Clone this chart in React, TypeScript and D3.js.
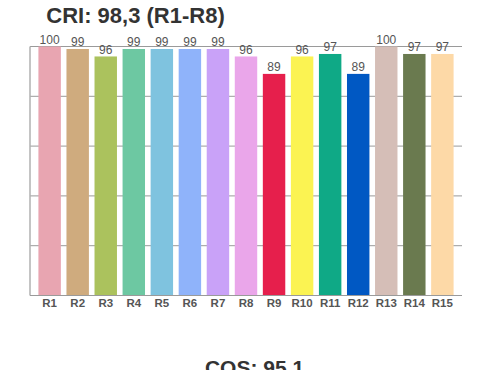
import React from "react";
import * as d3 from "d3";

const categories = ["R1","R2","R3","R4","R5","R6","R7","R8","R9","R10","R11","R12","R13","R14","R15"];
const values = [100,99,96,99,99,99,99,96,89,96,97,89,100,97,97];
const colors = ["#e8a5b1","#cfab7e","#abc25d","#6dc8a2","#7fc3df","#8fb3fa","#c9a2f8","#eaa6ea","#e61f4c","#fbf352","#0fa986","#0058c3","#d5beb7","#6a7a4f","#fdd9a7"];
const gridTicks = [0,20,40,60,80,100];
const title = "CRI: 98,3 (R1-R8)";
const footer = "CQS: 95.1";

export default function App() {
  const W = 500, H = 370;
  const left = 30, right = 462, top = 46.5, bottom = 295.5;
  const x = d3.scaleBand<string>().domain(categories).range([left, right]).paddingInner(0.2).paddingOuter(0.3);
  const y = d3.scaleLinear().domain([0, 100]).range([bottom, top]);
  const font = "Liberation Sans, Arial, Helvetica, sans-serif";
  return (
    <svg width={W} height={H} style={{ position: "absolute", left: 0, top: 0 }} fontFamily={font}>
      <rect width={W} height={H} fill="#fff" />
      {gridTicks.map((t) => (
        <line key={t} x1={left} x2={right} y1={y(t)} y2={y(t)} stroke="#9a9a9a" strokeWidth={1} />
      ))}
      <line x1={left} x2={left} y1={top} y2={bottom} stroke="#b0b0b0" strokeWidth={1.5} />
      {categories.map((c, i) => (
        <rect key={c} x={x(c)} y={y(values[i])} width={x.bandwidth()} height={y(0) - y(values[i])} fill={colors[i]} />
      ))}
      <line x1={left} x2={right} y1={bottom} y2={bottom} stroke="#9a9a9a" strokeWidth={1} />
      {categories.map((c, i) => (
        <text key={"v" + c} x={(x(c) as number) + x.bandwidth() / 2} y={y(values[i]) - 2.5} textAnchor="middle" fontSize={12} fill="#555">
          {values[i]}
        </text>
      ))}
      {categories.map((c) => (
        <text key={"l" + c} x={(x(c) as number) + x.bandwidth() / 2} y={307} textAnchor="middle" fontSize={11.5} fontWeight="bold" fill="#555">
          {c}
        </text>
      ))}
      <text x={135.5} y={23} textAnchor="middle" fontSize={22} fontWeight="bold" fill="#333">{title}</text>
      <text x={254.5} y={375} textAnchor="middle" fontSize={21} fontWeight="bold" fill="#333">{footer}</text>
    </svg>
  );
}
